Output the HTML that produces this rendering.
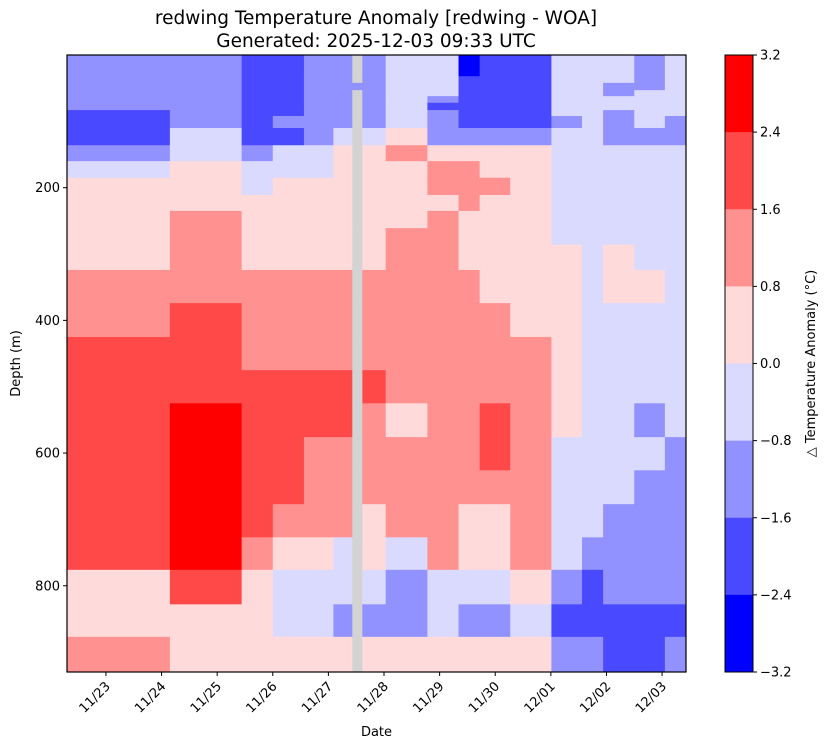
<!DOCTYPE html>
<html><head><meta charset="utf-8"><style>
body{margin:0;background:#fff;}
svg text{font-family:"DejaVu Sans","Liberation Sans",sans-serif;fill:#000;}
</style></head><body>
<svg id="chart" width="828" height="748" xmlns="http://www.w3.org/2000/svg">
<rect width="828" height="748" fill="#fff"/>
<text x="376" y="24" font-size="18.5" text-anchor="middle">redwing Temperature Anomaly [redwing - WOA]</text>
<text x="376" y="47" font-size="18.5" text-anchor="middle">Generated: 2025-12-03 09:33 UTC</text>
<g id="cells"></g>
<g id="axes"></g>
<g id="cbar"></g>
</svg>
<script>
const dateLabels = ["11/23","11/24","11/25","11/26","11/27","11/28","11/29","11/30","12/01","12/02","12/03"];
const colEdges = [-0.70,1.15,2.44,3.00,3.56,4.09,4.43,4.61,5.03,5.78,6.34,6.72,7.27,8.01,8.56,8.94,9.50,10.05,10.43];
const depthEdges = [0,32,42,53,62,72,83,92,110,136,160,185,211,235,261,286,324,374,425,475,525,576,626,677,727,776,828,877,930];
const depthTicks = [200,400,600,800];
const cbarTicks = [3.2,2.4,1.6,0.8,0.0,-0.8,-1.6,-2.4,-3.2];
const N = NaN;
const col0 = [-1.2,-1.2,-1.2,-1.2,-1.2,-1.2,-2,-2,-2,-1.2,-0.4,0.4,0.4,0.4,0.4,0.4,1.2,1.2,2,2,2,2,2,2,2,0.4,0.4,1.2];
const col1 = [-1.2,-1.2,-1.2,-1.2,-1.2,-1.2,-1.2,-1.2,-0.4,-0.4,0.4,0.4,0.4,1.2,1.2,1.2,1.2,2,2,2,2.8,2.8,2.8,2.8,2.8,2,0.4,0.4];
const col2 = [-2,-2,-2,-2,-2,-2,-2,-2,-2,-1.2,-0.4,-0.4,0.4,0.4,0.4,0.4,1.2,1.2,1.2,2,2,2,2,2,1.2,0.4,0.4,0.4];
const col3 = [-2,-2,-2,-2,-2,-2,-2,-1.2,-2,-0.4,-0.4,0.4,0.4,0.4,0.4,0.4,1.2,1.2,1.2,2,2,2,2,1.2,0.4,-0.4,-0.4,0.4];
const col4 = [-1.2,-1.2,-1.2,-1.2,-1.2,-1.2,-1.2,-1.2,-1.2,-0.4,-0.4,0.4,0.4,0.4,0.4,0.4,1.2,1.2,1.2,2,2,1.2,1.2,1.2,0.4,-0.4,-0.4,0.4];
const col5 = [-1.2,-1.2,-1.2,-1.2,-1.2,-1.2,-1.2,-1.2,-0.4,0.4,0.4,0.4,0.4,0.4,0.4,0.4,1.2,1.2,1.2,2,2,1.2,1.2,1.2,-0.4,-0.4,-1.2,0.4];
const col6 = [N,N,-1.2,N,N,N,N,N,N,N,N,N,N,N,N,N,N,N,N,N,N,N,N,N,N,N,N,N];
const col7 = [-1.2,-1.2,-1.2,-1.2,-1.2,-1.2,-1.2,-1.2,-0.4,0.4,0.4,0.4,0.4,0.4,0.4,0.4,1.2,1.2,1.2,2,1.2,1.2,1.2,0.4,0.4,-0.4,-1.2,0.4];
const col8 = [-0.4,-0.4,-0.4,-0.4,-0.4,-0.4,-0.4,-0.4,0.4,1.2,0.4,0.4,0.4,0.4,1.2,1.2,1.2,1.2,1.2,1.2,0.4,1.2,1.2,1.2,-0.4,-1.2,-1.2,0.4];
const col9 = [-0.4,-0.4,-0.4,-0.4,-1.2,-2,-1.2,-1.2,-1.2,0.4,1.2,1.2,0.4,1.2,1.2,1.2,1.2,1.2,1.2,1.2,1.2,1.2,1.2,1.2,1.2,-0.4,-0.4,0.4];
const col10 = [-2.8,-2,-2,-2,-2,-2,-2,-2,-1.2,0.4,1.2,1.2,1.2,0.4,0.4,0.4,1.2,1.2,1.2,1.2,1.2,1.2,1.2,0.4,0.4,-0.4,-1.2,0.4];
const col11 = [-2,-2,-2,-2,-2,-2,-2,-2,-1.2,0.4,0.4,1.2,0.4,0.4,0.4,0.4,0.4,1.2,1.2,1.2,2,2,1.2,0.4,0.4,-0.4,-1.2,0.4];
const col12 = [-2,-2,-2,-2,-2,-2,-2,-2,-1.2,0.4,0.4,0.4,0.4,0.4,0.4,0.4,0.4,0.4,1.2,1.2,1.2,1.2,1.2,1.2,1.2,0.4,-0.4,0.4];
const col13 = [-0.4,-0.4,-0.4,-0.4,-0.4,-0.4,-0.4,-1.2,-0.4,-0.4,-0.4,-0.4,-0.4,-0.4,-0.4,0.4,0.4,0.4,0.4,0.4,0.4,-0.4,-0.4,-0.4,-0.4,-1.2,-2,-1.2];
const col14 = [-0.4,-0.4,-0.4,-0.4,-0.4,-0.4,-0.4,-0.4,-0.4,-0.4,-0.4,-0.4,-0.4,-0.4,-0.4,-0.4,-0.4,-0.4,-0.4,-0.4,-0.4,-0.4,-0.4,-0.4,-1.2,-2,-2,-1.2];
const col15 = [-0.4,-0.4,-1.2,-1.2,-0.4,-0.4,-1.2,-1.2,-1.2,-0.4,-0.4,-0.4,-0.4,-0.4,-0.4,0.4,0.4,-0.4,-0.4,-0.4,-0.4,-0.4,-0.4,-1.2,-1.2,-1.2,-2,-2];
const col16 = [-1.2,-1.2,-1.2,-0.4,-0.4,-0.4,-0.4,-0.4,-1.2,-0.4,-0.4,-0.4,-0.4,-0.4,-0.4,-0.4,0.4,-0.4,-0.4,-0.4,-1.2,-0.4,-1.2,-1.2,-1.2,-1.2,-2,-2];
const col17 = [-0.4,-0.4,-0.4,-0.4,-0.4,-0.4,-0.4,-1.2,-1.2,-0.4,-0.4,-0.4,-0.4,-0.4,-0.4,-0.4,-0.4,-0.4,-0.4,-0.4,-0.4,-1.2,-1.2,-1.2,-1.2,-1.2,-2,-1.2];
const columns = [col0,col1,col2,col3,col4,col5,col6,col7,col8,col9,col10,col11,col12,col13,col14,col15,col16,col17];

const NS="http://www.w3.org/2000/svg";
const PL=67, PR=686, PT=55, PB=672;
const X0=-0.70, X1=10.43, D0=0, D1=930;
function xs(d){return PL+(d-X0)/(X1-X0)*(PR-PL);}
function ys(v){return PT+(v-D0)/(D1-D0)*(PB-PT);}
const levelColors=["#0000ff","#4949ff","#9191ff","#dadaff","#ffdada","#ff9191","#ff4949","#ff0000"];
function color(v){if(isNaN(v))return "#d3d3d3";let i=Math.floor((v+3.2)/0.8);i=Math.max(0,Math.min(7,i));return levelColors[i];}
function mk(tag,attrs,parent){const e=document.createElementNS(NS,tag);for(const k in attrs)e.setAttribute(k,attrs[k]);parent.appendChild(e);return e;}

const cells=document.getElementById('cells');
columns.forEach((col,ci)=>{
  const xa=xs(colEdges[ci]), xb=xs(colEdges[ci+1]);
  col.forEach((v,ri)=>{
    const ya=ys(depthEdges[ri]), yb=ys(depthEdges[ri+1]);
    const r=mk('rect',{x:xa.toFixed(2),y:ya.toFixed(2),width:(xb-xa+0.4).toFixed(2),height:(yb-ya+0.4).toFixed(2),fill:color(v)},cells);
    
    
  });
});

const axes=document.getElementById('axes');
const frame=mk('rect',{x:PL,y:PT,width:PR-PL,height:PB-PT,fill:"none",stroke:"#000","stroke-width":1.2},axes);


depthTicks.forEach(t=>{
  const y=ys(t);
  mk('line',{x1:PL-4,x2:PL,y1:y,y2:y,stroke:"#000"},axes);
  const tx=mk('text',{x:PL-7,y:y+4.5,"font-size":13,"text-anchor":"end"},axes);
  tx.textContent=t;
  
  
});
dateLabels.forEach((lab,i)=>{
  const x=xs(i);
  mk('line',{x1:x,x2:x,y1:PB,y2:PB+4,stroke:"#000"},axes);
  const tx=mk('text',{x:x+5,y:PB+15,"font-size":13,"text-anchor":"end",transform:`rotate(-45 ${x+5} ${PB+15})`},axes);
  tx.textContent=lab;
  
  
});
const xl=mk('text',{x:(PL+PR)/2,y:736,"font-size":13,"text-anchor":"middle"},axes);
xl.textContent="Date";


const yl=mk('text',{x:20,y:(PT+PB)/2,"font-size":13,"text-anchor":"middle",transform:`rotate(-90 20 ${(PT+PB)/2})`},axes);
yl.textContent="Depth (m)";



const cb=document.getElementById('cbar');
const CL=725, CR=753;
function cy(v){return PT+(3.2-v)/6.4*(PB-PT);}
for(let i=0;i<8;i++){
  const top=3.2-i*0.8;
  const r=mk('rect',{x:CL,y:cy(top),width:CR-CL,height:cy(top-0.8)-cy(top)+0.4,fill:levelColors[7-i]},cb);
  
  
}
mk('rect',{x:CL,y:PT,width:CR-CL,height:PB-PT,fill:"none",stroke:"#000","stroke-width":1},cb);
cbarTicks.forEach(t=>{
  const y=cy(t);
  mk('line',{x1:CR,x2:CR+4,y1:y,y2:y,stroke:"#000"},cb);
  const tx=mk('text',{x:CR+7,y:y+4.5,"font-size":13},cb);
  tx.textContent=(t<0?"\u2212"+Math.abs(t).toFixed(1):t.toFixed(1));
  
  
});
const cl=mk('text',{x:815,y:(PT+PB)/2,"font-size":13,"text-anchor":"middle",transform:`rotate(-90 815 ${(PT+PB)/2})`},cb);
cl.textContent="\u25B3 Temperature Anomaly (\u00B0C)";


</script>
</body></html>
